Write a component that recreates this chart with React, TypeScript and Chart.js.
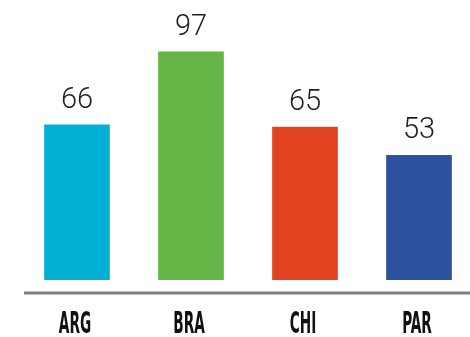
import React, { useEffect, useRef } from "react";
import { Chart, registerables } from "chart.js";

Chart.register(...registerables);

const categories = ["ARG", "BRA", "CHI", "PAR"];
const values = [66, 97, 65, 53];
const barColors = ["#02AFD5", "#64B446", "#E1421F", "#2C51A1"];

const overlayPlugin = {
  id: "overlay",
  afterDatasetsDraw(chart: any) {
    const ctx = chart.ctx;
    const meta = chart.getDatasetMeta(0);
    const xScale = chart.scales.x;
    ctx.save();
    // value labels
    ctx.font = "300 29px Roboto, 'Liberation Sans', sans-serif";
    ctx.fillStyle = "#1E1E1E";
    ctx.textAlign = "center";
    ctx.textBaseline = "alphabetic";
    meta.data.forEach((bar: any, i: number) => {
      ctx.fillText(String(values[i]), bar.x, bar.y - 17);
    });
    // baseline
    ctx.fillStyle = "#7E8184";
    ctx.fillRect(24, 291.5, 460, 3);
    // category labels (condensed)
    ctx.fillStyle = "#111111";
    ctx.font = "bold 31px 'Liberation Sans Narrow', 'DejaVu Sans Condensed', sans-serif";
    ctx.textBaseline = "alphabetic";
    categories.forEach((c, i) => {
      const x = xScale.getPixelForValue(i) - 2;
      ctx.save();
      ctx.translate(x, 333);
      ctx.scale(0.49, 1);
      ctx.fillText(c, 0, 0);
      ctx.restore();
    });
    ctx.restore();
  },
};

export default function App() {
  const ref = useRef<HTMLCanvasElement | null>(null);
  useEffect(() => {
    document.body.style.margin = "0";
    document.body.style.overflow = "hidden";
    const chart = new Chart(ref.current as HTMLCanvasElement, {
      type: "bar",
      data: {
        labels: categories,
        datasets: [
          {
            data: values,
            backgroundColor: barColors,
            borderWidth: 0,
            barThickness: 65,
          },
        ],
      },
      options: {
        animation: false,
        responsive: false,
        maintainAspectRatio: false,
        layout: { padding: { left: 20, right: 0, top: 0, bottom: 57 } },
        plugins: { legend: { display: false }, tooltip: { enabled: false } },
        scales: {
          x: { display: false, grid: { display: false } },
          y: { display: false, min: 0, max: 119, grid: { display: false } },
        },
      },
      plugins: [overlayPlugin],
    });
    return () => chart.destroy();
  }, []);
  return (
    <div style={{ width: 470, height: 337, overflow: "hidden", background: "#fff" }}>
      <canvas ref={ref} width={476} height={337} style={{ width: 476, height: 337, display: "block" }} />
    </div>
  );
}
